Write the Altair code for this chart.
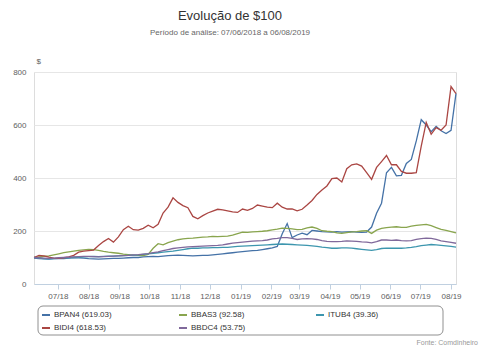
import altair as alt
import pandas as pd

# shared x grid: every 5 days from 07/06/2018 to 06/08/2019
dates = pd.date_range("2018-06-07", periods=86, freq="5D")

series_names = ["BPAN4 (619.03)", "BBAS3 (92.58)", "ITUB4 (39.36)", "BIDI4 (618.53)", "BBDC4 (53.75)"]
series_colors = ["#4572A7", "#89A54E", "#3D96AE", "#AA4643", "#80699B"]

bpan4 = [98, 96, 95, 94, 96, 97, 96, 98, 100, 99, 98, 96, 95, 94, 95, 96, 97, 97, 98, 99,
         100, 100, 102, 103, 104, 103, 105, 107, 108, 109, 108, 107, 106, 107, 108, 108, 110, 112, 114, 116,
         118, 120, 122, 124, 126, 127, 130, 133, 136, 142, 190, 228, 175, 185, 192, 186, 202, 200, 198, 197,
         196, 198, 196, 197, 198, 196, 195, 196, 215, 267, 305, 420, 440, 408, 410, 455, 470, 540, 620, 600,
         575, 595, 578, 568, 580, 719.03]
bbas3 = [100, 102, 104, 106, 110, 114, 118, 121, 124, 127, 129, 131, 130, 127, 123, 120, 118, 116, 113, 111,
         109, 108, 107, 112, 135, 152, 148, 156, 162, 167, 170, 172, 173, 175, 177, 178, 180, 179, 180, 181,
         184, 190, 196, 195, 197, 198, 199, 201, 204, 207, 211, 210, 208, 205, 206, 212, 215, 210, 201, 199,
         198, 193, 191, 194, 197, 198, 200, 201, 191, 203, 210, 213, 215, 216, 214, 214, 218, 221, 223, 225,
         220, 213, 206, 202, 198, 192.58]
itub4 = [100, 98, 96, 95, 96, 97, 98, 99, 100, 101, 102, 103, 104, 103, 104, 105, 105, 106, 107, 108,
         109, 110, 112, 114, 116, 118, 120, 122, 124, 127, 130, 133, 135, 135, 136, 136, 137, 137, 138, 138,
         140, 142, 143, 144, 145, 146, 147, 148, 149, 150, 151, 150, 149, 148, 147, 146, 144, 142, 139, 137,
         135, 135, 136, 136, 135, 133, 131, 129, 127, 130, 134, 135, 135, 135, 135, 136, 138, 141, 145, 147,
         149, 148, 146, 144, 142, 139.36]
bidi4 = [100, 108, 106, 101, 98, 97, 99, 102, 108, 120, 124, 126, 128, 145, 160, 172, 158, 178, 205, 218,
         205, 203, 210, 222, 212, 225, 268, 290, 325, 308, 296, 288, 255, 246, 258, 268, 275, 282, 280, 276,
         272, 270, 283, 278, 285, 298, 294, 290, 288, 305, 290, 283, 283, 276, 282, 298, 315, 338, 355, 370,
         398, 400, 385, 435, 450, 453, 445, 420, 395, 440, 462, 485, 450, 450, 425, 418, 418, 420, 520, 610,
         565, 590, 580, 600, 745, 718.53]
bbdc4 = [100, 99, 98, 97, 98, 99, 100, 101, 102, 103, 104, 104, 103, 102, 103, 104, 105, 106, 107, 108,
         110, 111, 113, 115, 118, 121, 126, 130, 134, 136, 138, 140, 141, 142, 143, 144, 145, 146, 148, 151,
         154, 156, 158, 160, 162, 163, 164, 166, 170, 172, 175, 175, 172, 168, 170, 171, 170, 168, 164, 161,
         160, 160, 161, 163, 162, 161, 159, 158, 155, 160, 166, 166, 165, 166, 164, 163, 164, 168, 171, 173,
         172, 168, 163, 160, 157, 153.75]

y_ticks = [0, 200, 400, 600, 800]
title_text = "Evolução de $100"
subtitle_text = "Período de análise: 07/06/2018 a 06/08/2019"
source_text = "Fonte: Comdinheiro"

FONT = "Liberation Sans, sans-serif"

rows = []
for name, vals in zip(series_names, [bpan4, bbas3, itub4, bidi4, bbdc4]):
    for d, v in zip(dates, vals):
        rows.append({"date": d, "value": v, "serie": name})
df = pd.DataFrame(rows)

lines = alt.Chart(df).mark_line(strokeWidth=1.3).encode(
    x=alt.X("date:T",
            scale=alt.Scale(domain=["2018-06-07", "2019-08-06"]),
            axis=alt.Axis(format="%m/%y", tickCount={"interval": "month", "step": 1},
                          title=None, grid=False, labelFontSize=8, labelColor="#606060",
                          tickColor="#C0D0E0", domainColor="#C0D0E0", tickSize=5,
                          labelPadding=3, labelFont=FONT)),
    y=alt.Y("value:Q",
            scale=alt.Scale(domain=[0, 800], nice=False),
            axis=alt.Axis(values=y_ticks, title="$", titleAngle=0, titleX=2, titleY=-7,
                          titleBaseline="bottom", titleAlign="left", titleFontSize=8,
                          titleFontWeight="normal", titleColor="#606060", titleFont=FONT,
                          labelFontSize=8, labelColor="#606060", labelFont=FONT,
                          domain=False, ticks=False, labelPadding=8,
                          gridColor="#E6E6E6")),
    color=alt.Color("serie:N",
                    scale=alt.Scale(domain=series_names, range=series_colors),
                    legend=alt.Legend(title=None, orient="none", legendX=7, legendY=238,
                                      direction="horizontal",
                                      columns=3, gridAlign="all", columnPadding=63,
                                      rowPadding=4, symbolType="stroke", symbolSize=64,
                                      symbolStrokeWidth=2, labelFontSize=8,
                                      labelColor="#333333", labelFont=FONT, labelOffset=3,
                                      padding=0)),
    order=alt.Order("date:T"),
)

legend_box = alt.Chart(pd.DataFrame({"k": [0]})).mark_rect(
    filled=False, stroke="#909090", strokeWidth=1, cornerRadius=5
).encode(x=alt.value(4), x2=alt.value(409), y=alt.value(234), y2=alt.value(263))

source = alt.Chart(pd.DataFrame({"t": [source_text]})).mark_text(
    align="right", baseline="alphabetic", fontSize=7, color="#999999", font=FONT
).encode(x=alt.value(444), y=alt.value(273), text="t:N")

chart = alt.layer(lines, legend_box, source).properties(
    width=422, height=212,
    title=alt.Title(title_text, subtitle=subtitle_text, anchor="middle", dx=-15,
                    fontSize=13, fontWeight="normal", color="#333333", font=FONT,
                    subtitleFontSize=8, subtitleColor="#666666", subtitleFont=FONT,
                    offset=20, subtitlePadding=6),
    autosize=alt.AutoSizeParams(type="none"),
    padding={"left": 34, "top": 72, "right": 24, "bottom": 64},
).configure_view(strokeWidth=0).configure(background="white")

chart.save("out.html", embed_options={"renderer": "svg", "actions": False})
